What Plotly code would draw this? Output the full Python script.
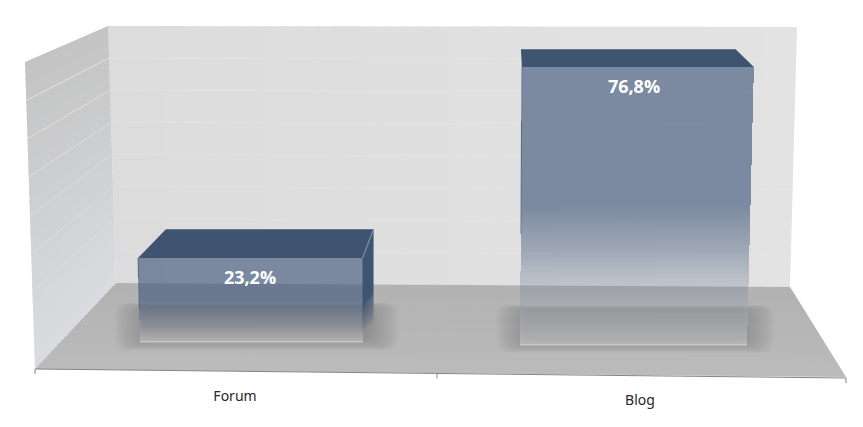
import numpy as np
import plotly.graph_objects as go

# ---- data ----
categories = ["Forum", "Blog"]
values = [23.2, 76.8]
value_labels = ["23,2%", "76,8%"]

# ---- geometry of the faked 3D box (pixels of the 863x427 window) ----
W, H = 863, 427
PX_PER_UNIT = 3.62
ZERO_PX = 343.0
BASE_LEFT = [140, 520]
BASE_RIGHT = [363, 747]
BASE_PX = [342, 345]
LABEL_X = [250, 634]
CAT_LABEL = [(235, 397), (640, 401)]
BOTTOM_GROW = 0.00029
VP_X = 437

FACE = (63, 84, 112)
STOPS = [  # fraction of bar height from base, r, g, b, alpha
    (0.00, 205, 205, 205, 0.55),
    (0.10, 175, 178, 182, 0.42),
    (0.22, 110, 125, 150, 0.30),
    (0.34, 80, 100, 130, 0.46),
    (0.50, 63, 87, 122, 0.63),
    (1.00, 63, 87, 122, 0.63),
]


def Y(py):
    return (ZERO_PX - py) / PX_PER_UNIT


def PY(v):
    return ZERO_PX - v * PX_PER_UNIT


def edge_x(x0, v):
    return VP_X + (x0 - VP_X) * (1 + BOTTOM_GROW * v)


def back(px, py):
    return 510 + (px - 510) * 0.925, py - (14 + 0.057 * py)


def poly(points):
    return "M" + " L".join(f"{x:.2f},{Y(y):.3f}" for x, y in points) + " Z"


def lerp(a, b, t):
    return a + (b - a) * t


def stop_color(f):
    fs = [s[0] for s in STOPS]
    c = [np.interp(f, fs, [s[i] for s in STOPS]) for i in range(1, 5)]
    return f"rgba({c[0]:.0f},{c[1]:.0f},{c[2]:.0f},{c[3]:.3f})"


shapes = []


def add_poly(points, fill):
    shapes.append(dict(type="path", path=poly(points), fillcolor=fill,
                       line=dict(width=0), layer="below", xref="x", yref="y"))


# ---- walls and floor ----
BW = [(108, 26), (797, 27), (790, 287), (116, 283)]
LW = [(25, 62), (108, 26), (116, 283), (35, 369)]
FL = [(116, 283), (790, 287), (846, 377), (35, 369)]

n = 40
for i in range(n):  # back wall, left to right
    t0, t1 = i / n, min(1, (i + 1.4) / n)
    p = [(lerp(BW[0][0], BW[1][0], t0), lerp(BW[0][1], BW[1][1], t0)),
         (lerp(BW[0][0], BW[1][0], t1), lerp(BW[0][1], BW[1][1], t1)),
         (lerp(BW[3][0], BW[2][0], t1), lerp(BW[3][1], BW[2][1], t1)),
         (lerp(BW[3][0], BW[2][0], t0), lerp(BW[3][1], BW[2][1], t0))]
    g = lerp(220, 227, t0)
    add_poly(p, f"rgb({g:.0f},{g:.0f},{g:.0f})")

n = 40
for i in range(n):  # left wall, top to bottom
    t0, t1 = i / n, min(1, (i + 1.4) / n)
    p = [(lerp(LW[0][0], LW[3][0], t0), lerp(LW[0][1], LW[3][1], t0)),
         (lerp(LW[1][0], LW[2][0], t0), lerp(LW[1][1], LW[2][1], t0)),
         (lerp(LW[1][0], LW[2][0], t1), lerp(LW[1][1], LW[2][1], t1)),
         (lerp(LW[0][0], LW[3][0], t1), lerp(LW[0][1], LW[3][1], t1))]
    r = lerp(196, 218, t0)
    add_poly(p, f"rgb({r:.0f},{r + 2 * t0:.0f},{r + 6 * t0:.0f})")

n = 24
for i in range(n):  # floor, back to front
    t0, t1 = i / n, min(1, (i + 1.4) / n)
    p = [(lerp(FL[3][0], FL[0][0], 1 - t0), lerp(FL[3][1], FL[0][1], 1 - t0)),
         (lerp(FL[2][0], FL[1][0], 1 - t0), lerp(FL[2][1], FL[1][1], 1 - t0)),
         (lerp(FL[2][0], FL[1][0], 1 - t1), lerp(FL[2][1], FL[1][1], 1 - t1)),
         (lerp(FL[3][0], FL[0][0], 1 - t1), lerp(FL[3][1], FL[0][1], 1 - t1))]
    g = lerp(178, 187, t0)
    add_poly(p, f"rgb({g:.0f},{g:.0f},{g:.0f})")

# gridlines on both walls
for k in range(1, 8):
    t = k / 8
    yb = lerp(26, 283, t)
    xb = lerp(108, 116, t)
    xl = lerp(25, 35, t)
    yl = lerp(62, 369, t)
    xr = lerp(797, 790, t)
    yr = lerp(27, 287, t)
    for (a, b, c, d, col) in [(xl, yl, xb, yb, f"rgba(235,235,235,{0.8 - 0.65 * t:.2f})"),
                              (xb, yb, xr, yr, "rgba(234,234,234,0.3)")]:
        shapes.append(dict(type="line", x0=a, y0=Y(b), x1=c, y1=Y(d),
                           line=dict(color=col, width=1), layer="below"))

# soft shadows on the floor
for (sx0, sx1, sy0, sy1) in [(115, 398, 303, 351), (496, 774, 305, 353)]:
    for k in range(16):
        ins = k * 1.9
        x0, x1 = sx0 + ins, sx1 - ins
        y0, y1 = sy0 + min(k * 0.3, 3), sy1 - ins * 0.38
        r = 12
        path = (f"M{x0 + r},{Y(y0)} L{x1 - r},{Y(y0)} Q{x1},{Y(y0)} {x1},{Y(y0 + r)} "
                f"L{x1},{Y(y1 - r)} Q{x1},{Y(y1)} {x1 - r},{Y(y1)} L{x0 + r},{Y(y1)} "
                f"Q{x0},{Y(y1)} {x0},{Y(y1 - r)} L{x0},{Y(y0 + r)} Q{x0},{Y(y0)} {x0 + r},{Y(y0)} Z")
        shapes.append(dict(type="path", path=path, fillcolor="rgba(100,100,100,0.034)",
                           line=dict(width=0), layer="below", xref="x", yref="y"))

fig = go.Figure()

# ---- top faces, derived from the values ----
top_x, top_y = [], []
for i, v in enumerate(values):
    offs = BASE_PX[i] - ZERO_PX
    py = PY(v) + offs
    xl, xr = edge_x(BASE_LEFT[i], v), edge_x(BASE_RIGHT[i], v)
    bl, br = back(xl, py), back(xr, py)
    top_x += [xl, xr, br[0], bl[0], xl, None]
    top_y += [Y(py), Y(py), Y(br[1]), Y(bl[1]), Y(py), None]
fig.add_trace(go.Scatter(x=top_x, y=top_y, mode="lines", fill="toself",
                         fillcolor=f"rgb{FACE}", line=dict(width=0), hoverinfo="skip"))

# ---- right side face of the Forum box, fading toward the floor ----
v = values[0]
py = PY(v) + BASE_PX[0] - ZERO_PX
fr = edge_x(BASE_RIGHT[0], v)
br = back(fr, py)
bottom_front, bottom_back = BASE_PX[0], 335


def side_quad(t0, t1, alpha):
    pts = [(fr, lerp(py, bottom_front, t0)), (br[0], lerp(br[1], bottom_back, t0)),
           (br[0], lerp(br[1], bottom_back, t1)), (fr, lerp(py, bottom_front, t1))]
    fig.add_trace(go.Scatter(x=[p[0] for p in pts] + [pts[0][0]],
                             y=[Y(p[1]) for p in pts] + [Y(pts[0][1])],
                             mode="lines", fill="toself", line=dict(width=0),
                             fillcolor=f"rgba(63,84,112,{alpha:.2f})", hoverinfo="skip"))


side_quad(0, 0.6, 1.0)
m = 12
for j in range(m):
    t0 = 0.6 + 0.3 * j / m
    side_quad(t0, t0 + 0.3 / m, 1 - (j + 0.5) / m)

# ---- gradient strips of the front faces ----
sx, sw, sb, sh, sc = [], [], [], [], []
for i, v in enumerate(values):
    offs = (ZERO_PX - BASE_PX[i]) / PX_PER_UNIT
    nstr = int(round(v * PX_PER_UNIT / 2))
    for j in range(nstr):
        f0, f1 = j / nstr, (j + 1) / nstr
        vm = v * (f0 + f1) / 2
        xl, xr = edge_x(BASE_LEFT[i], vm), edge_x(BASE_RIGHT[i], vm)
        sx.append((xl + xr) / 2)
        sw.append(xr - xl)
        sb.append(offs + v * f0)
        sh.append(v * (f1 - f0))
        sc.append(stop_color((f0 + f1) / 2))
fig.add_trace(go.Bar(x=sx, y=sh, base=sb, width=sw, marker=dict(color=sc, line=dict(width=0)),
                     hoverinfo="skip"))

# ---- the data bars themselves (carry the values) ----
centers = [(edge_x(BASE_LEFT[i], v) + edge_x(BASE_RIGHT[i], v)) / 2 for i, v in enumerate(values)]
widths = [edge_x(BASE_RIGHT[i], v) - edge_x(BASE_LEFT[i], v) for i, v in enumerate(values)]
bases = [(ZERO_PX - b) / PX_PER_UNIT for b in BASE_PX]
fig.add_trace(go.Bar(x=centers, y=values, base=bases, width=widths, customdata=categories,
                     marker=dict(color="rgba(0,0,0,0)", line=dict(width=0)), hoverinfo="skip"))

# ---- edge highlights ----
for i, v in enumerate(values):
    yb = bases[i]
    fig.add_trace(go.Scatter(x=[BASE_LEFT[i], BASE_RIGHT[i]], y=[yb, yb], mode="lines",
                             line=dict(color="rgba(225,225,225,0.7)", width=1.2), hoverinfo="skip"))
    yt = yb + v
    fig.add_trace(go.Scatter(x=[edge_x(BASE_LEFT[i], v), edge_x(BASE_LEFT[i], v * 0.4)],
                             y=[yt, yb + v * 0.4], mode="lines",
                             line=dict(color="rgba(50,70,100,0.5)", width=1), hoverinfo="skip"))
py = PY(values[0]) + BASE_PX[0] - ZERO_PX
fig.add_trace(go.Scatter(x=[fr, br[0]], y=[Y(py), Y(br[1])], mode="lines",
                         line=dict(color="rgb(118,142,172)", width=1.2), hoverinfo="skip"))

# ---- value labels ----
fig.add_trace(go.Scatter(x=LABEL_X, y=[bases[i] + v - 6.0 for i, v in enumerate(values)],
                         text=value_labels, mode="text",
                         textfont=dict(family="Open Sans", size=18, color="white", weight="bold"),
                         hoverinfo="skip"))

# ---- category axis (tilted baseline) ----
fig.add_trace(go.Scatter(x=[35, 846], y=[Y(369), Y(378)], mode="lines",
                         line=dict(color="#858585", width=1), hoverinfo="skip"))
for tx, ty in [(35, 369), (437, 373.5), (846, 378)]:
    fig.add_trace(go.Scatter(x=[tx, tx], y=[Y(ty), Y(ty + 5)], mode="lines",
                             line=dict(color="#858585", width=1), hoverinfo="skip"))
fig.add_trace(go.Scatter(x=[c[0] for c in CAT_LABEL], y=[Y(c[1]) for c in CAT_LABEL],
                         text=categories, mode="text",
                         textfont=dict(family="Noto Sans", size=14, color="#262626"),
                         hoverinfo="skip"))

fig.update_layout(
    width=W, height=H, margin=dict(l=0, r=0, t=0, b=0),
    paper_bgcolor="white", plot_bgcolor="white", showlegend=False,
    barmode="overlay", bargap=0, shapes=shapes, hovermode=False,
    xaxis=dict(range=[0, W], visible=False, fixedrange=True),
    yaxis=dict(range=[Y(H), Y(0)], visible=False, fixedrange=True),
)
fig.write_html("out.html", config=dict(displayModeBar=False),
               post_script="document.body.style.margin='0';")
